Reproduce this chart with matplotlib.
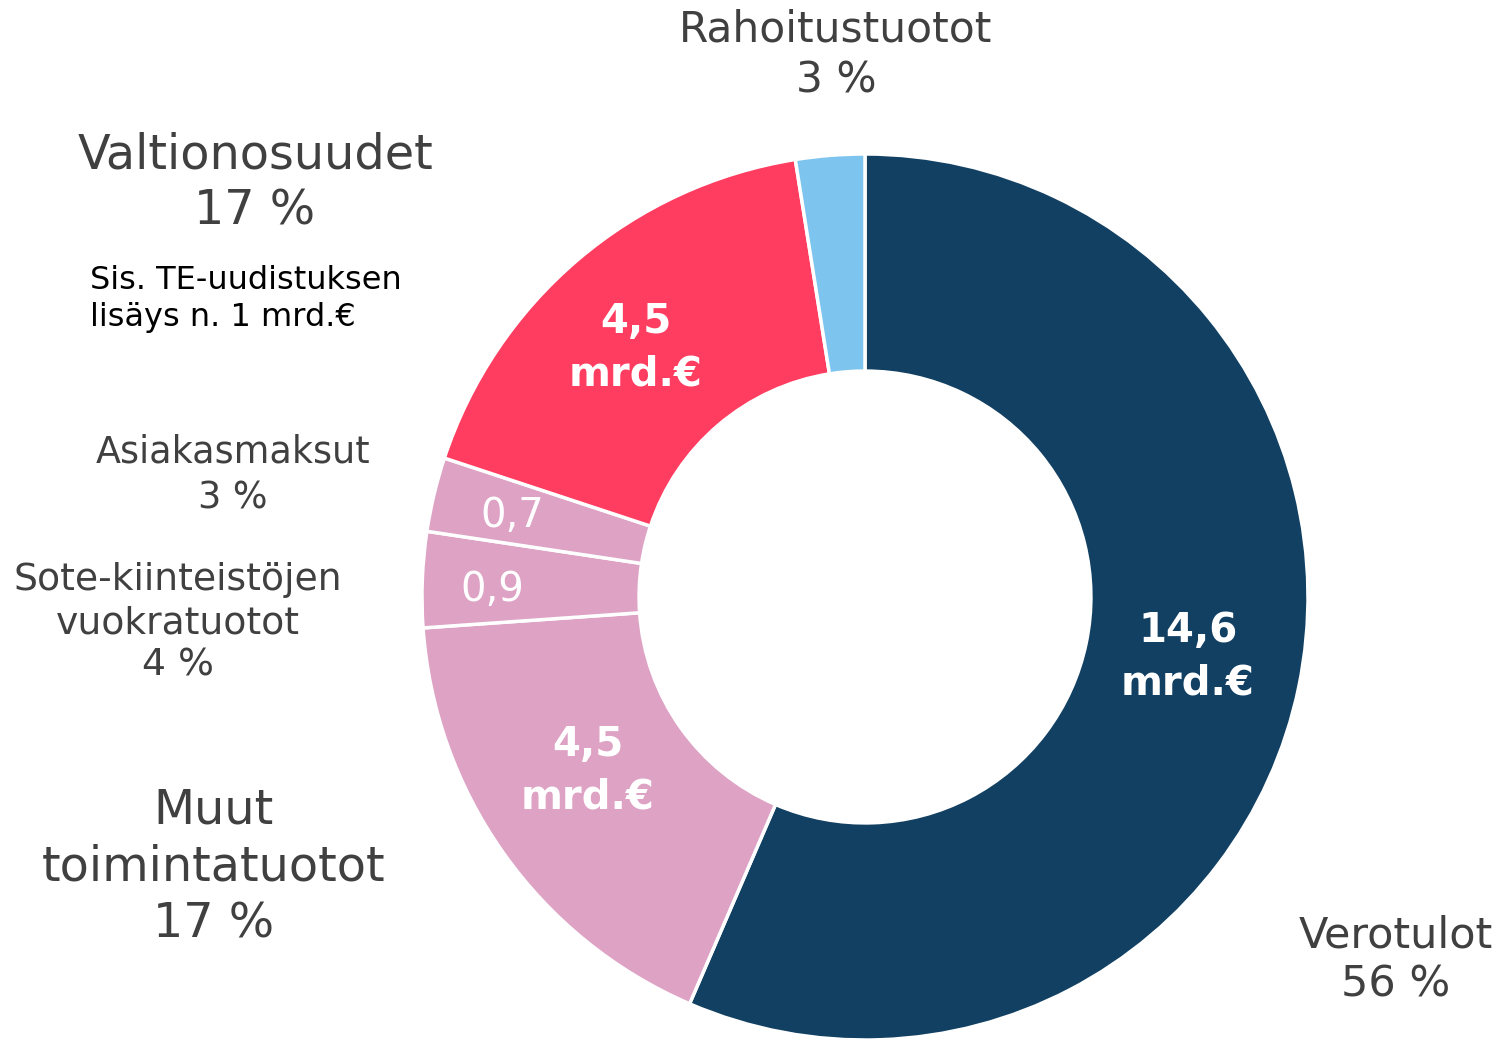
import matplotlib
matplotlib.use("Agg")
import matplotlib.pyplot as plt

plt.rcParams['font.family'] = ['DejaVu Sans']

# tulolajit (mrd. €), myötäpäivään ylhäältä alkaen
luokat = ['Verotulot', 'Muut toimintatuotot', 'Sote-kiinteistöjen vuokratuotot',
          'Asiakasmaksut', 'Valtionosuudet', 'Rahoitustuotot']
arvot = [14.6, 4.5, 0.9, 0.7, 4.5, 0.65]
osuudet = ['56 %', '17 %', '4 %', '3 %', '17 %', '3 %']
arvo_tekstit = ['14,6\nmrd.€', '4,5\nmrd.€', '0,9', '0,7', '4,5\nmrd.€', '']
varit = ['#124062', '#dda2c4', '#dda2c4', '#dda2c4', '#ff3d60', '#7dc5ee']

W, H = 1501, 1040
fig = plt.figure(figsize=(W / 100, H / 100), dpi=100)


def px(x, y):
    # pikselikoordinaatit -> kuvion koordinaatit
    return x / W, 1 - y / H


# donitsi: keskipiste (865, 597), säde 443 px
cx, cy, r = 865, 597, 443
ax = fig.add_axes([(cx - r) / W, (H - cy - r) / H, 2 * r / W, 2 * r / H])
ax.pie(arvot, colors=varit, startangle=90, counterclock=False, radius=1,
       wedgeprops=dict(width=0.49, edgecolor='white', linewidth=2.5))
ax.set_xlim(-1, 1)
ax.set_ylim(-1, 1)
ax.set_aspect('equal')
ax.axis('off')

harmaa = '#404040'

# arvot renkaan sisällä
sisa = [(1188, 657, 29, 'bold'), (588, 771, 29, 'bold'), (492, 590, 29, 'normal'),
        (512, 516, 29, 'normal'), (636, 348, 29, 'bold')]
for teksti, (x, y, fs, fw) in zip(arvo_tekstit, sisa):
    fig.text(*px(x, y), teksti, ha='center', va='center', color='white',
             fontsize=fs, fontweight=fw, linespacing=1.4)

# nimet ja osuudet renkaan ulkopuolella
ulko = [(1396, 960, 31, 1.24), (214, 867, 34.4, 1.26), (178, 623, 27.2, 1.24),
        (233, 475, 26.3, 1.3), (255, 183, 34.4, 1.24), (836, 55, 30.5, 1.27)]
nimet = ['Verotulot', 'Muut\ntoimintatuotot', 'Sote-kiinteistöjen\nvuokratuotot',
         'Asiakasmaksut', 'Valtionosuudet', 'Rahoitustuotot']
for nimi, osuus, (x, y, fs, ls) in zip(nimet, osuudet, ulko):
    fig.text(*px(x, y), nimi + '\n' + osuus, ha='center', va='center',
             color=harmaa, fontsize=fs, linespacing=ls)

fig.text(*px(90, 299), 'Sis. TE-uudistuksen\nlisäys n. 1 mrd.€', ha='left',
         va='center', color='black', fontsize=23, linespacing=1.27)

fig.savefig('out.png', dpi=100, facecolor='white')
